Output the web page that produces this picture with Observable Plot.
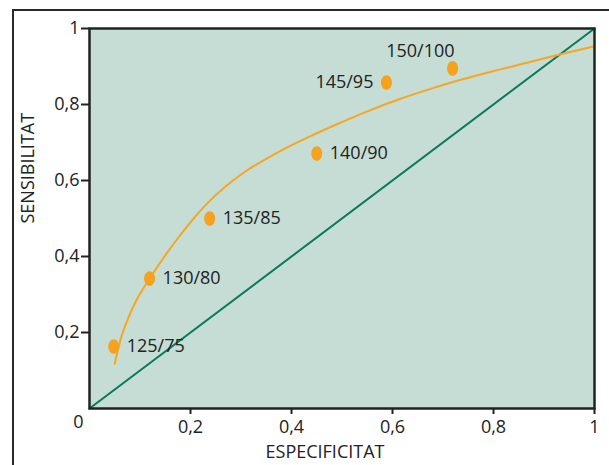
<!DOCTYPE html>
<html>
<head>
<meta charset="utf-8">
<script src="https://cdn.jsdelivr.net/npm/d3@7"></script>
<script src="https://cdn.jsdelivr.net/npm/@observablehq/plot@0.6"></script>
<style>
  html, body { margin: 0; padding: 0; background: #fff; }
  #wrap { position: relative; width: 609px; height: 465px; overflow: hidden; }
  #border { position: absolute; left: 12px; top: 9px; width: 700px; height: 600px;
            border-left: 2.5px solid #2a2a2a; border-top: 2.5px solid #2a2a2a; pointer-events: none; }
  svg { display: block; }
</style>
</head>
<body>
<div id="wrap"><div id="border"></div></div>
<script>
// Threshold points (systolic/diastolic)
const pointLabels = ["125/75", "130/80", "135/85", "140/90", "145/95", "150/100"];
const pointSpec   = [0.048, 0.119, 0.238, 0.450, 0.588, 0.719];
const pointSens   = [0.163, 0.342, 0.500, 0.671, 0.858, 0.895];

// Fitted ROC curve
const curveSpec = [0.050, 0.061, 0.077, 0.095, 0.119, 0.150, 0.176, 0.205, 0.234, 0.270, 0.310, 0.350, 0.384, 0.438, 0.490, 0.543, 0.616, 0.680, 0.735, 0.800, 0.870, 0.923, 0.960, 0.996];
const curveSens   = [0.118, 0.179, 0.239, 0.290, 0.342, 0.403, 0.450, 0.498, 0.541, 0.585, 0.625, 0.657, 0.682, 0.717, 0.748, 0.778, 0.815, 0.843, 0.865, 0.888, 0.911, 0.929, 0.941, 0.952];

// Reference diagonal
const diagSpec = [0, 1];
const diagSens = [0, 1];

const axisTicks = [0.2, 0.4, 0.6, 0.8, 1];
const xTitle = "ESPECIFICITAT";
const yTitle = "SENSIBILITAT";

const points = pointLabels.map((l, i) => ({label: l, x: pointSpec[i], y: pointSens[i]}));
const curve = curveSpec.map((x, i) => ({x, y: curveSens[i]}));
const diag = diagSpec.map((x, i) => ({x, y: diagSens[i]}));

const fmt = d => d === 1 ? "1" : d3.format(".1f")(d).replace(".", ",");

const ellipse = {
  draw(ctx, size) {
    const rx = 5.5, ry = 7.3, k = 0.5523;
    ctx.moveTo(rx, 0);
    ctx.bezierCurveTo(rx, ry * k, rx * k, ry, 0, ry);
    ctx.bezierCurveTo(-rx * k, ry, -rx, ry * k, -rx, 0);
    ctx.bezierCurveTo(-rx, -ry * k, -rx * k, -ry, 0, -ry);
    ctx.bezierCurveTo(rx * k, -ry, rx, -ry * k, rx, 0);
    ctx.closePath();
  }
};

const rightPts = points.slice(0, 4);
const leftPts = points.slice(4, 5);
const topPts = points.slice(5, 6);

const chart = Plot.plot({
  width: 609,
  height: 465,
  marginLeft: 89,
  marginTop: 28,
  marginRight: 15,
  marginBottom: 57,
  style: {fontFamily: "'Open Sans', sans-serif", fontSize: "18px", color: "#222", background: "transparent"},
  x: {domain: [0, 1]},
  y: {domain: [0, 1]},
  marks: [
    Plot.frame({fill: "#c5ddd4", stroke: null}),
    Plot.line(diag, {x: "x", y: "y", stroke: "#087a5c", strokeWidth: 2}),
    Plot.line(curve, {x: "x", y: "y", stroke: "#f6a623", strokeWidth: 2, curve: "monotone-x"}),
    Plot.dot(points, {x: "x", y: "y", symbol: ellipse, fill: "#f6a21e", stroke: null}),
    Plot.text(rightPts, {x: "x", y: "y", text: "label", textAnchor: "start", dx: 13, fill: "#222", fontSize: 18}),
    Plot.text(leftPts, {x: "x", y: "y", text: "label", textAnchor: "end", dx: -13, fill: "#222", fontSize: 18}),
    Plot.text(topPts, {x: "x", y: "y", text: "label", textAnchor: "end", dx: 2, dy: -17, fill: "#222", fontSize: 18}),
    Plot.frame({stroke: "#222", strokeWidth: 2.5}),
    Plot.axisX({ticks: axisTicks, tickFormat: fmt, tickSize: 6, tickPadding: 6, label: null, stroke: "#222", strokeWidth: 2, fontSize: 18}),
    Plot.axisY({ticks: axisTicks, tickFormat: fmt, tickSize: 8, tickPadding: 2, label: null, stroke: "#222", strokeWidth: 2, fontSize: 18}),
    Plot.text([{x: 0, y: 0}], {x: "x", y: "y", text: () => "0", dx: -11, dy: 14, fill: "#222", fontSize: 18}),
    Plot.text([xTitle], {frameAnchor: "bottom", text: d => d, dx: -17, dy: 49, fill: "#222", fontSize: 18}),
    Plot.text([yTitle], {frameAnchor: "left", text: d => d, rotate: -90, dx: -61, dy: 5, fill: "#222", fontSize: 18})
  ]
});
document.getElementById("wrap").prepend(chart);
</script>
</body>
</html>
